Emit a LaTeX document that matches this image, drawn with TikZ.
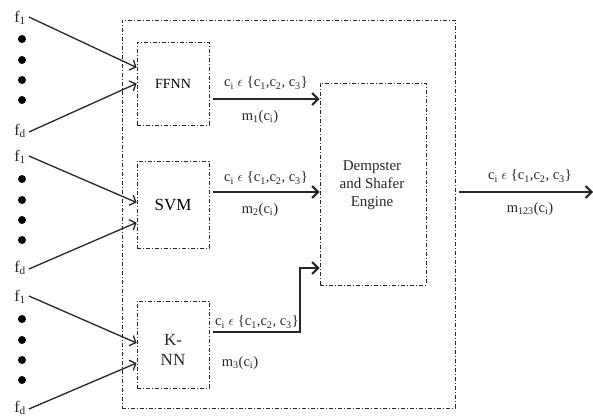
\documentclass[tikz,border=0pt]{standalone}
\usepackage{fontspec}
\setmainfont{Liberation Serif}
\usetikzlibrary{arrows.meta}
\begin{document}
\begin{tikzpicture}[x=1pt,y=-1pt,
  dd/.style={draw=black!85, line width=0.9pt, dash pattern=on 4pt off 2pt on 1pt off 2pt},
  box/.style={dd, rectangle, inner sep=0pt},
  inarr/.style={-{Straight Barb[length=5pt,width=11pt]}, line width=1.3pt, black!85},
  midarr/.style={-{Straight Barb[length=6pt,width=12pt]}, line width=2pt, black!85},
  lbl/.style={font=\fontsize{14.5}{16}\selectfont, inner sep=0pt, text=black!85},
  flbl/.style={font=\fontsize{16}{17}\selectfont, inner sep=0pt, text=black!85},
  dot/.style={circle, fill=black, inner sep=0pt, minimum size=8pt},
]
\useasboundingbox (0,0) rectangle (593,418);

% outer box
\node[box, minimum width=333pt, minimum height=388pt] (outer) at (288.5,214) {};

% classifier boxes
\node[box, minimum width=72pt, minimum height=83pt, font=\fontsize{14}{15}\selectfont] (ffnn) at (173,83.5) {FFNN};
\node[box, minimum width=72pt, minimum height=87pt, font=\fontsize{17}{18}\selectfont] (svm) at (173,204.5) {SVM};
\node[box, minimum width=72pt, minimum height=87pt] (knn) at (173,344.5) {};
\node[font=\fontsize{17}{20}\selectfont, align=center, inner sep=0pt, text=black!85] (knntxt) at (173,350) {K-\\NN};

% Dempster box
\node[box, minimum width=106pt, minimum height=202pt] (ds) at (373,184) {};
\node[font=\fontsize{15}{18}\selectfont, align=center, inner sep=0pt, text=black!85] (dstxt) at (372,185) {Dempster\\and Shafer\\Engine};

% inputs group 1
\node[flbl] (f1a) at (20,18) {f\textsubscript{1}};
\node[flbl] (fda) at (20,131) {f\textsubscript{d}};
\node[dot] (d1a) at (22,39) {};
\node[dot] (d2a) at (22,60) {};
\node[dot] (d3a) at (22,80) {};
\node[dot] (d4a) at (22,100) {};
% inputs group 2
\node[flbl] (f1b) at (20,157) {f\textsubscript{1}};
\node[flbl] (fdb) at (20,268) {f\textsubscript{d}};
\node[dot] (d1b) at (22,179) {};
\node[dot] (d2b) at (22,200) {};
\node[dot] (d3b) at (22,220) {};
\node[dot] (d4b) at (22,240) {};
% inputs group 3
\node[flbl] (f1c) at (20,297) {f\textsubscript{1}};
\node[flbl] (fdc) at (20,408) {f\textsubscript{d}};
\node[dot] (d1c) at (22,319) {};
\node[dot] (d2c) at (22,340) {};
\node[dot] (d3c) at (22,360) {};
\node[dot] (d4c) at (22,380) {};

% input arrows (yshift positive = upwards on page)
\draw[inarr] ([xshift=3pt,yshift=1pt]f1a.east) -- ([yshift=16pt]ffnn.west);
\draw[inarr] ([xshift=3pt,yshift=-1pt]fda.east) -- ([yshift=0pt]ffnn.west);
\draw[inarr] ([xshift=3pt,yshift=1pt]f1b.east) -- ([yshift=2pt]svm.west);
\draw[inarr] ([xshift=3pt,yshift=-1pt]fdb.east) -- ([yshift=-18pt]svm.west);
\draw[inarr] ([xshift=3pt,yshift=1pt]f1c.east) -- ([yshift=1.5pt]knn.west);
\draw[inarr] ([xshift=3pt,yshift=-1pt]fdc.east) -- ([yshift=-18.5pt]knn.west);

% classifier outputs
\coordinate (a1s) at ([xshift=4pt,yshift=-15.5pt]ffnn.east);
\coordinate (a1e) at ([yshift=85pt]ds.west);
\draw[midarr] (a1s) -- (a1e);
\node[lbl] (l1a) at (266,83) {c\textsubscript{i} $\epsilon$ \{c\textsubscript{1},c\textsubscript{2}, c\textsubscript{3}\}};
\node[lbl] (l1b) at (260,117) {m\textsubscript{1}(c\textsubscript{i})};

\coordinate (a2s) at ([xshift=4pt,yshift=12.5pt]svm.east);
\coordinate (a2e) at ([yshift=-8pt]ds.west);
\draw[midarr] (a2s) -- (a2e);
\node[lbl] (l2a) at (266,178) {c\textsubscript{i} $\epsilon$ \{c\textsubscript{1},c\textsubscript{2}, c\textsubscript{3}\}};
\node[lbl] (l2b) at (260,210) {m\textsubscript{2}(c\textsubscript{i})};

\coordinate (a3s) at ([xshift=4pt,yshift=12.5pt]knn.east);
\coordinate (a3e) at ([yshift=-84pt]ds.west);
\draw[midarr] (a3s) -| (300,268) -- (a3e);
\node[lbl] (l3a) at (257,322) {c\textsubscript{i} $\epsilon$ \{c\textsubscript{1},c\textsubscript{2}, c\textsubscript{3}\}};
\node[lbl] (l3b) at (240,363) {m\textsubscript{3}(c\textsubscript{i})};

% final output
\coordinate (outs) at ([xshift=4pt,yshift=22pt]outer.east);
\coordinate (oute) at (593,192);
\draw[midarr] (outs) -- (oute);
\node[lbl] (l4a) at (530,176) {c\textsubscript{i} $\epsilon$ \{c\textsubscript{1},c\textsubscript{2}, c\textsubscript{3}\}};
\node[lbl] (l4b) at (530,209) {m\textsubscript{123}(c\textsubscript{i})};
\end{tikzpicture}
\end{document}
